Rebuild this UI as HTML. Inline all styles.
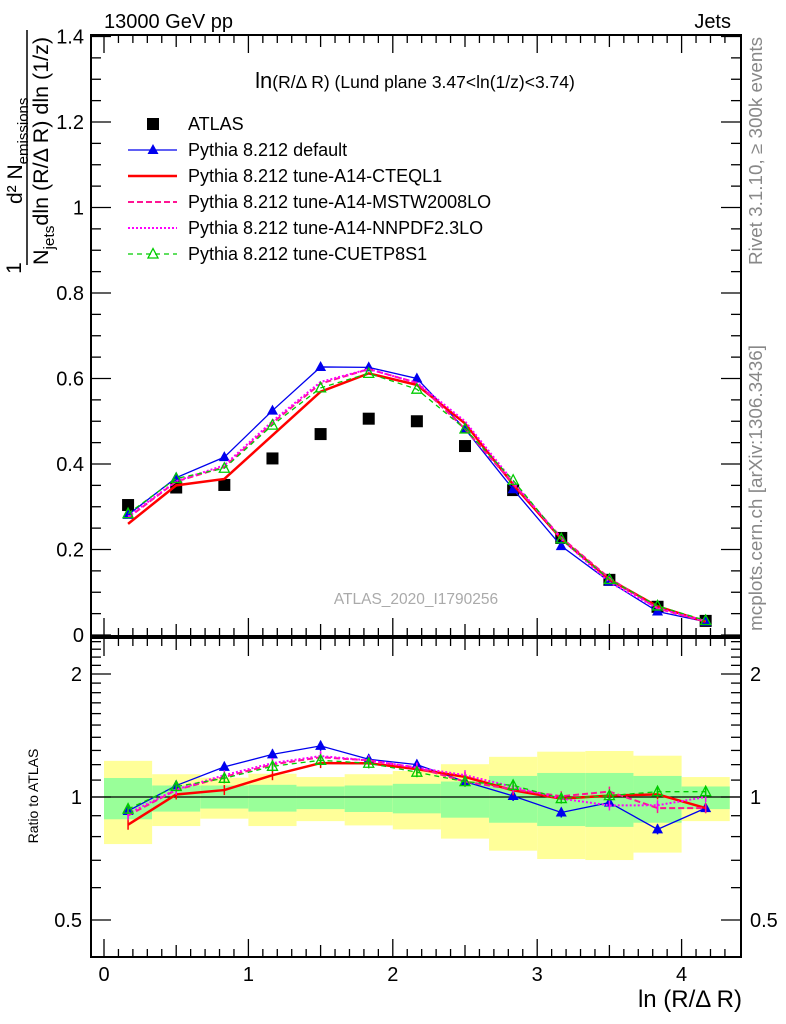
<!DOCTYPE html>
<html><head><meta charset="utf-8">
<style>
html,body{margin:0;padding:0;background:#fff;}
svg{display:block;font-family:"Liberation Sans","DejaVu Sans",sans-serif;}
</style></head>
<body>
<svg id="chart" width="786" height="1024" viewBox="0 0 786 1024" xmlns="http://www.w3.org/2000/svg">
<text x="104" y="28" font-size="20">13000 GeV pp</text>
<text x="731" y="28" font-size="20" text-anchor="end">Jets</text>
<text x="415" y="88" font-size="17.5" text-anchor="middle"><tspan font-size="22">ln</tspan>(R/Δ R) (Lund plane 3.47&lt;ln(1/z)&lt;3.74)</text>
<text transform="translate(762,265) rotate(-90)" font-size="18" fill="#888" textLength="228" lengthAdjust="spacingAndGlyphs">Rivet 3.1.10, ≥ 300k events</text>
<text transform="translate(762,631) rotate(-90)" font-size="18" fill="#888" textLength="286" lengthAdjust="spacingAndGlyphs">mcplots.cern.ch [arXiv:1306.3436]</text>
<text x="416" y="604" font-size="15.5" fill="#aaa" text-anchor="middle">ATLAS_2020_I1790256</text>
<g font-size="21">
  <text transform="translate(21,268) rotate(-90)" text-anchor="middle">1</text>
  <line x1="27" y1="30" x2="27" y2="265" stroke="#000" stroke-width="1.5"/>
  <text transform="translate(22,204) rotate(-90)">d² N<tspan font-size="15" dy="6">emissions</tspan></text>
  <text transform="translate(48,265) rotate(-90)" textLength="228" lengthAdjust="spacingAndGlyphs">N<tspan font-size="15" dy="6">jets</tspan><tspan dy="-6">dln (R/Δ R) dln (1/z)</tspan></text>
</g>
<text transform="translate(38,796) rotate(-90)" font-size="14" text-anchor="middle">Ratio to ATLAS</text>
<text x="742" y="1007" font-size="24" text-anchor="end">ln (R/Δ R)</text>
<g id="bands"></g>
<g id="main"></g>
<g id="ratio"></g>
<g id="axes"></g>
<g id="legend"></g>
</svg>
<script>
const binEdgesLow = [0,0.3333,0.6667,1,1.3333,1.6667,2,2.3333,2.6667,3,3.3333,3.6667,4];
const binCenters = [0.1667,0.5,0.8333,1.1667,1.5,1.8333,2.1667,2.5,2.8333,3.1667,3.5,3.8333,4.1667];
const atlas = [0.304,0.345,0.351,0.413,0.470,0.506,0.500,0.442,0.339,0.227,0.129,0.066,0.033];
const pyDefault = [0.281,0.368,0.416,0.525,0.627,0.626,0.600,0.482,0.341,0.208,0.125,0.055,0.031];
const pyCTEQ = [0.260,0.350,0.365,0.467,0.569,0.612,0.585,0.495,0.352,0.225,0.130,0.067,0.031];
const pyMSTW = [0.274,0.359,0.393,0.496,0.588,0.622,0.590,0.482,0.354,0.228,0.133,0.062,0.031];
const pyNNPDF = [0.277,0.360,0.397,0.500,0.592,0.622,0.590,0.500,0.359,0.225,0.123,0.063,0.033];
const pyCUETP = [0.284,0.366,0.390,0.491,0.578,0.612,0.575,0.482,0.362,0.225,0.130,0.068,0.034];
const yellowHi = [1.226,1.137,1.115,1.14,1.119,1.137,1.158,1.203,1.254,1.291,1.296,1.262,1.119];
const yellowLo = [0.767,0.849,0.885,0.849,0.873,0.852,0.833,0.791,0.739,0.705,0.701,0.731,0.873];
const greenHi = [1.113,1.067,1.067,1.071,1.061,1.067,1.077,1.091,1.126,1.145,1.145,1.126,1.061];
const greenLo = [0.882,0.921,0.937,0.921,0.934,0.919,0.912,0.89,0.865,0.849,0.845,0.865,0.934];
const mainTicks = [0,0.2,0.4,0.6,0.8,1,1.2,1.4];
const mainTickLabels = ["0","0.2","0.4","0.6","0.8","1","1.2","1.4"];
const ratioTicks = [0.5,1,2];
const ratioTickLabels = ["0.5","1","2"];
const xTicks = [0,1,2,3,4];
const xTickLabels = ["0","1","2","3","4"];

const NS="http://www.w3.org/2000/svg";
const L=91,R=741,MT=35,MB=636,RT=638,RB=957;
const X=v=>104+v*144.4;
const Y=v=>635-v*427.5;
const YR=r=>797-123*Math.log2(r);
function mk(tag,attrs,parent){const e=document.createElementNS(NS,tag);for(const k in attrs)e.setAttribute(k,attrs[k]);parent.appendChild(e);return e;}
const bands=document.getElementById('bands'),main=document.getElementById('main'),ratio=document.getElementById('ratio'),axes=document.getElementById('axes'),legend=document.getElementById('legend');

binEdgesLow.forEach((lo,i)=>{
  const x0=X(lo),x1=X(lo+1/3);
  let r=mk('rect',{x:x0,y:YR(yellowHi[i]),width:x1-x0,height:YR(yellowLo[i])-YR(yellowHi[i]),fill:'#ffff99'},bands);
  
  
  r=mk('rect',{x:x0,y:YR(greenHi[i]),width:x1-x0,height:YR(greenLo[i])-YR(greenHi[i]),fill:'#99ff99'},bands);
  
  
});
let ref=mk('line',{x1:L,x2:R,y1:YR(1),y2:YR(1),stroke:'#000','stroke-width':1.2},bands);



const series=[
 {name:'default',vals:pyDefault,color:'#0000ee',w:1.3,dash:'',marker:'tri-filled'},
 {name:'cteql1',vals:pyCTEQ,color:'#ff0000',w:2.5,dash:'',marker:'none'},
 {name:'mstw2008lo',vals:pyMSTW,color:'#ff1493',w:2,dash:'6,3',marker:'none'},
 {name:'nnpdf23lo',vals:pyNNPDF,color:'#ff00ff',w:2,dash:'2,2',marker:'none'},
 {name:'cuetp8s1',vals:pyCUETP,color:'#00cc00',w:1.3,dash:'5,4',marker:'tri-open'}
];
function marker(kind,cx,cy,color,parent,nm){
  let e=null;
  if(kind==='tri-filled'){e=mk('polygon',{points:`${cx},${cy-6} ${cx-5.5},${cy+4} ${cx+5.5},${cy+4}`,fill:color},parent);}
  else if(kind==='tri-open'){e=mk('polygon',{points:`${cx},${cy-5.5} ${cx-5},${cy+4} ${cx+5},${cy+4}`,fill:'none',stroke:color,'stroke-width':1.3},parent);}
  else if(kind==='square'){e=mk('rect',{x:cx-6,y:cy-6,width:12,height:12,fill:'#000'},parent);}
  if(e){}
}
atlas.forEach((v,i)=>{marker('square',X(binCenters[i]),Y(v),'#000',main,'atlas-point');});
series.forEach(s=>{
  const pts=s.vals.map((v,i)=>X(binCenters[i])+','+Y(v)).join(' ');
  const pl=mk('polyline',{points:pts,fill:'none',stroke:s.color,'stroke-width':s.w,'stroke-dasharray':s.dash},main);
  
  
  s.vals.forEach((v,i)=>marker(s.marker,X(binCenters[i]),Y(v),s.color,main,s.name+'-point'));
  const rp=s.vals.map((v,i)=>X(binCenters[i])+','+YR(v/atlas[i])).join(' ');
  const rl=mk('polyline',{points:rp,fill:'none',stroke:s.color,'stroke-width':s.w,'stroke-dasharray':s.dash},ratio);
  
  
  s.vals.forEach((v,i)=>{
    const cx=X(binCenters[i]),cy=YR(v/atlas[i]);
    const eb=mk('line',{x1:cx,x2:cx,y1:cy-5,y2:cy+5,stroke:s.color,'stroke-width':1.5},ratio);
    
    
    marker(s.marker,cx,cy,s.color,ratio,s.name+'-ratio-point');
  });
});

[[MT,MB,'main-frame'],[RT,RB,'ratio-frame']].forEach(f=>{
  const r=mk('rect',{x:L,y:f[0],width:R-L,height:f[1]-f[0],fill:'none',stroke:'#000','stroke-width':2},axes);
  
  
});
function tick(x1,y1,x2,y2){mk('line',{x1,y1,x2,y2,stroke:'#000','stroke-width':1.3},axes);}
function label(x,y,t,anchor,size,nm){const e=mk('text',{x,y,'font-size':size,'text-anchor':anchor},axes);e.textContent=t;}
for(let v=0;v<=1.41;v+=0.05){const y=Y(v);const major=Math.abs(v/0.2-Math.round(v/0.2))<1e-6;const len=major?20:10;tick(L,y,L+len,y);tick(R,y,R-len,y);}
mainTicks.forEach((v,i)=>label(84,Y(v)+7,mainTickLabels[i],'end',20,'y-tick-label'));
for(let r=0.4;r<=2.45;r+=0.1){const y=YR(r);if(y<RT||y>RB)continue;const major=[0.5,1,2].some(m=>Math.abs(m-r)<1e-6);const len=major?20:10;tick(L,y,L+len,y);tick(R,y,R-len,y);}
ratioTicks.forEach((v,i)=>{label(82,YR(v)+7,ratioTickLabels[i],'end',20,'ratio-y-tick-label');label(750,YR(v)+7,ratioTickLabels[i],'start',20,'ratio-y-tick-label-right');});
for(let k=0;k<=43;k++){const v=k/10;const x=X(v);if(x>R)break;const major=k%10===0;const len=major?18:(k%5===0?12:8);
  tick(x,MB,x,MB-len);tick(x,MT,x,MT+len);tick(x,RB,x,RB-len);tick(x,RT,x,RT+len);}
xTicks.forEach((v,i)=>label(X(v),981,xTickLabels[i],'middle',20,'x-tick-label'));

const legItems=[['ATLAS','square','#000',0,''],['Pythia 8.212 default','tri-filled','#0000ee',1.3,''],['Pythia 8.212 tune-A14-CTEQL1','none','#ff0000',2.5,''],['Pythia 8.212 tune-A14-MSTW2008LO','none','#ff1493',2,'6,3'],['Pythia 8.212 tune-A14-NNPDF2.3LO','none','#ff00ff',2,'2,2'],['Pythia 8.212 tune-CUETP8S1','tri-open','#00cc00',1.3,'5,4']];
legItems.forEach((it,i)=>{
  const y=124+i*26;
  const g=mk('g',{},legend);
  
  
  if(it[3]>0)mk('line',{x1:128,x2:177,y1:y,y2:y,stroke:it[2],'stroke-width':it[3],'stroke-dasharray':it[4]},g);
  marker(it[1],153,y,it[2],g,'legend-marker');
  const t=mk('text',{x:188,y:y+6,'font-size':18},g);t.textContent=it[0];
});
</script>
</body></html>
